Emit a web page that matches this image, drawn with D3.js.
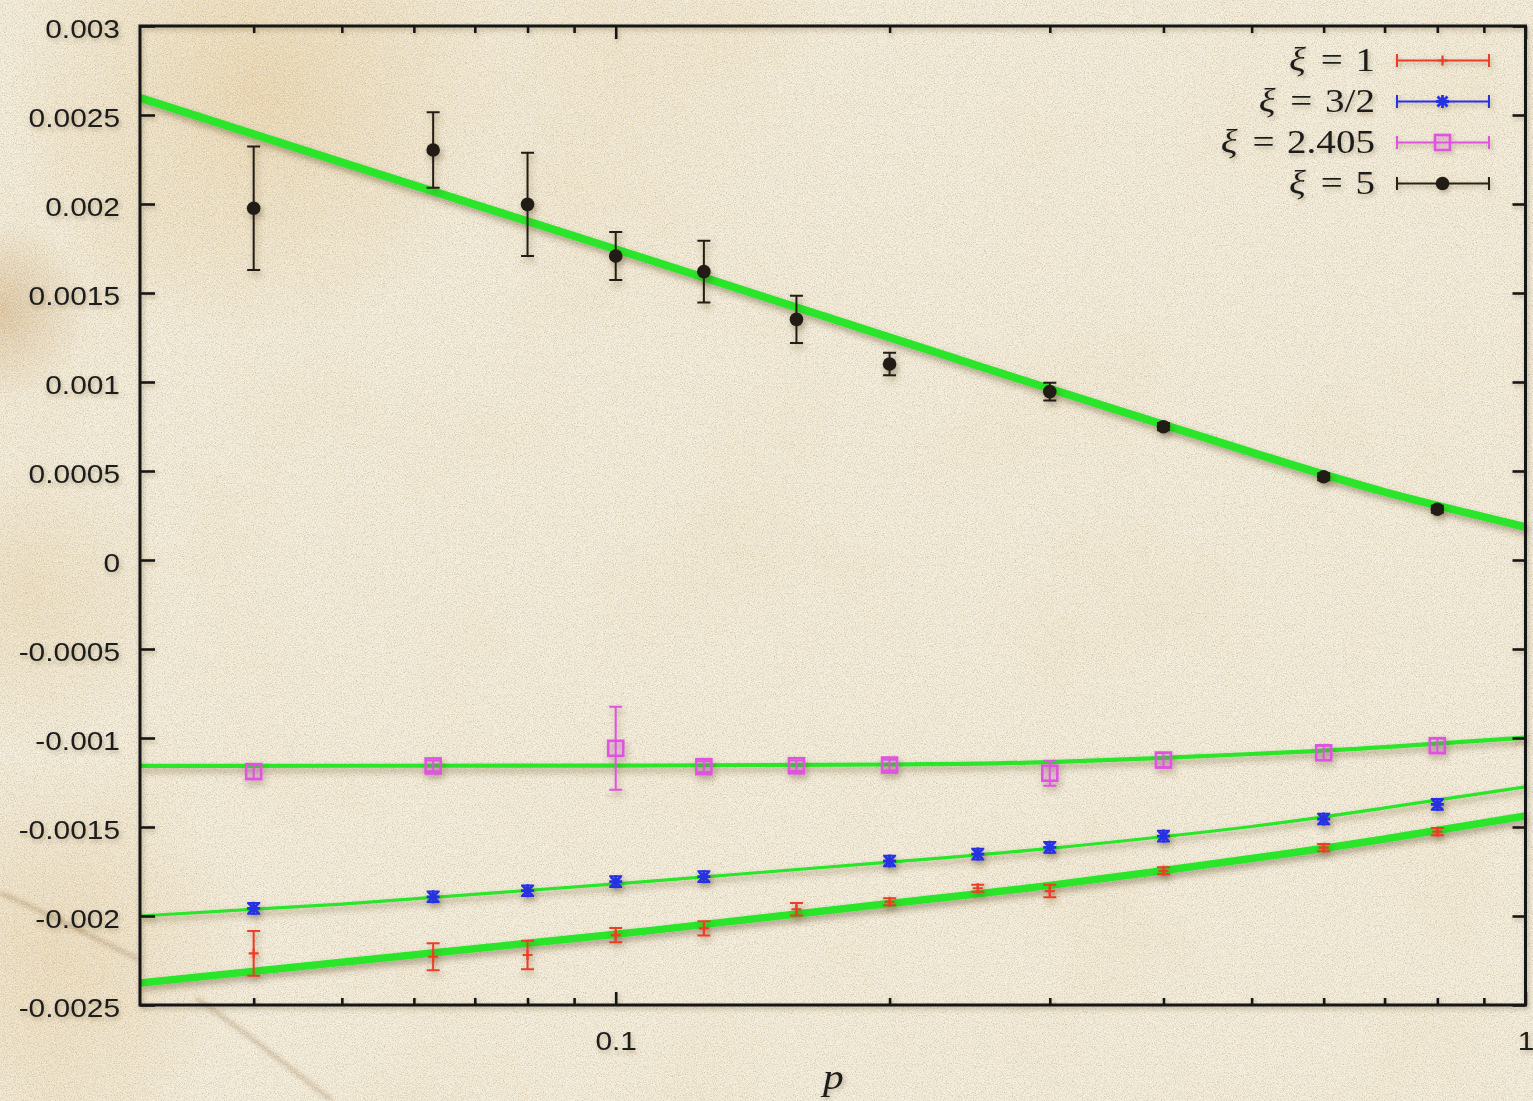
<!DOCTYPE html>
<html>
<head>
<meta charset="utf-8">
<script src="https://cdn.jsdelivr.net/npm/d3@7"></script>
<style>
  html, body { margin: 0; padding: 0; background: #f2ebd8; overflow: hidden; }
  svg { display: block; }
</style>
</head>
<body>
<svg id="chart" width="1533" height="1101"></svg>
<script>
// ---- data -------------------------------------------------------------
// xi = 1
const xi1P   = [0.04, 0.063, 0.08, 0.1, 0.125, 0.158, 0.2, 0.25, 0.3, 0.4, 0.6, 0.8];
const xi1Val = [-0.002210, -0.002229, -0.002219, -0.002107, -0.002069, -0.001962, -0.001920, -0.001844, -0.001860, -0.001746, -0.001616, -0.001526];
const xi1Err = [0.000126, 0.000076, 0.000080, 0.000040, 0.000040, 0.000035, 0.000020, 0.000020, 0.000035, 0.000020, 0.000020, 0.000020];

// xi = 3/2
const xi32P   = [0.04, 0.063, 0.08, 0.1, 0.125, 0.2, 0.25, 0.3, 0.4, 0.6, 0.8];
const xi32Val = [-0.001957, -0.001892, -0.001858, -0.001807, -0.001779, -0.001691, -0.001652, -0.001614, -0.001551, -0.001455, -0.001373];
const xi32Err = [0.000030, 0.000030, 0.000030, 0.000030, 0.000030, 0.000030, 0.000030, 0.000030, 0.000030, 0.000030, 0.000030];

// xi = 2.405
const xi2405P   = [0.04, 0.063, 0.1, 0.125, 0.158, 0.2, 0.3, 0.4, 0.6, 0.8];
const xi2405Val = [-0.001189, -0.001157, -0.001058, -0.001161, -0.001156, -0.001152, -0.001198, -0.001124, -0.001083, -0.001043];
const xi2405Err = [0.000040, 0.000030, 0.000233, 0.000030, 0.000030, 0.000030, 0.000070, 0.000040, 0.000040, 0.000040];

// xi = 5
const xi5P   = [0.04, 0.063, 0.08, 0.1, 0.125, 0.158, 0.2, 0.3, 0.4, 0.6, 0.8];
const xi5Val = [0.001976, 0.002303, 0.001998, 0.001708, 0.001620, 0.001352, 0.001101, 0.000946, 0.000749, 0.000468, 0.000285];
const xi5Err = [0.000347, 0.000212, 0.000290, 0.000135, 0.000174, 0.000133, 0.000063, 0.000050, 0.000020, 0.000020, 0.000020];

// fitted curves, sampled along p
const fitP    = [0.03, 0.05, 0.1, 0.2, 0.3, 0.5, 0.7, 1.0];
const fit1    = [-0.002376, -0.002260, -0.002103, -0.001930, -0.001828, -0.001677, -0.001567, -0.001438];
const fit32   = [-0.002000, -0.001933, -0.001820, -0.001697, -0.001620, -0.001497, -0.001393, -0.001275];
const fit2405 = [-0.001157, -0.001156, -0.001155, -0.001149, -0.001135, -0.001090, -0.001051, -0.000998];
const fit5    = [0.002596, 0.002234, 0.001746, 0.001251, 0.000962, 0.000605, 0.000382, 0.000185];

// axes
const yTicks      = [-0.0025, -0.002, -0.0015, -0.001, -0.0005, 0, 0.0005, 0.001, 0.0015, 0.002, 0.0025, 0.003];
const yTickLabels = ["-0.0025", "-0.002", "-0.0015", "-0.001", "-0.0005", "0", "0.0005", "0.001", "0.0015", "0.002", "0.0025", "0.003"];
const xTicks      = [0.1, 1];
const xTickLabels = ["0.1", "1"];
const xMinorTicks = [0.04, 0.05, 0.06, 0.07, 0.08, 0.09, 0.2, 0.3, 0.4, 0.5, 0.6, 0.7, 0.8, 0.9];
const legendLabels = ["1", "3/2", "2.405", "5"];

// ---- layout ------------------------------------------------------------
const W = 1533, H = 1101;
const L = 140, R = 1525.5, T = 26, B = 1005;
const SX = 1.15; // horizontal stretch of lettering

const svg = d3.select("#chart");
const x = d3.scaleLog().domain([0.03, 1]).range([L, R]);
const y = d3.scaleLinear().domain([-0.0025, 0.003]).range([B, T]);

const defs = svg.append("defs");

// paper texture: dark flecks, light flecks and broad mottling
const grain = defs.append("filter").attr("id", "grain")
  .attr("x", 0).attr("y", 0).attr("width", "100%").attr("height", "100%");
grain.append("feTurbulence").attr("type", "fractalNoise").attr("baseFrequency", 0.9)
  .attr("numOctaves", 3).attr("seed", 7).attr("result", "n");
grain.append("feColorMatrix").attr("in", "n").attr("type", "matrix")
  .attr("values", "0 0 0 0 0.45  0 0 0 0 0.36  0 0 0 0 0.22  2.2 0 0 0 -0.95");

const grainLight = defs.append("filter").attr("id", "grainLight")
  .attr("x", 0).attr("y", 0).attr("width", "100%").attr("height", "100%");
grainLight.append("feTurbulence").attr("type", "fractalNoise").attr("baseFrequency", 0.75)
  .attr("numOctaves", 2).attr("seed", 19).attr("result", "n");
grainLight.append("feColorMatrix").attr("in", "n").attr("type", "matrix")
  .attr("values", "0 0 0 0 1  0 0 0 0 0.99  0 0 0 0 0.95  0 2.2 0 0 -0.95");

const mottle = defs.append("filter").attr("id", "mottle")
  .attr("x", 0).attr("y", 0).attr("width", "100%").attr("height", "100%");
mottle.append("feTurbulence").attr("type", "fractalNoise").attr("baseFrequency", 0.006)
  .attr("numOctaves", 3).attr("seed", 3).attr("result", "n");
mottle.append("feColorMatrix").attr("in", "n").attr("type", "matrix")
  .attr("values", "0 0 0 0 0.82  0 0 0 0 0.66  0 0 0 0 0.40  1.6 0 0 0 -0.80");

const blur = defs.append("filter").attr("id", "blur").attr("x", "-20%").attr("y", "-20%")
  .attr("width", "140%").attr("height", "140%");
blur.append("feGaussianBlur").attr("stdDeviation", 2.2);

const stain = [
  { id: "s1", cx: 260, cy: 90,  r: 250, c: "rgb(226,196,140)", o: 0.55 },
  { id: "s2", cx: 0,   cy: 310, r: 90,  c: "rgb(196,152,92)",  o: 0.50 },
  { id: "s3", cx: 30,  cy: 600, r: 150, c: "rgb(222,190,132)", o: 0.30 },
  { id: "s4", cx: 50,  cy: 950, r: 200, c: "rgb(222,186,128)", o: 0.35 },
  { id: "s5", cx: 620, cy: 50,  r: 220, c: "rgb(232,210,165)", o: 0.25 }
];
stain.forEach(s => {
  const g = defs.append("radialGradient").attr("id", s.id);
  g.append("stop").attr("offset", "0%").attr("stop-color", s.c).attr("stop-opacity", s.o);
  g.append("stop").attr("offset", "100%").attr("stop-color", s.c).attr("stop-opacity", 0);
});

// drop shadows
function shadow(id, dx, dy, sd, op) {
  const f = defs.append("filter").attr("id", id).attr("x", "-10%").attr("y", "-10%")
    .attr("width", "120%").attr("height", "125%");
  f.append("feDropShadow").attr("dx", dx).attr("dy", dy).attr("stdDeviation", sd)
    .attr("flood-color", "#4a3418").attr("flood-opacity", op);
}
shadow("shadow", 2, 4, 3, 0.40);
shadow("shadowText", 1.5, 2.5, 2, 0.30);

defs.append("clipPath").attr("id", "plotClip")
  .append("rect").attr("x", L).attr("y", T).attr("width", R - L).attr("height", B - T);

// background
svg.append("rect").attr("width", W).attr("height", H).attr("fill", "#f3ecd9");
svg.append("rect").attr("width", W).attr("height", H).attr("filter", "url(#mottle)").attr("opacity", 0.3);
stain.forEach(s => {
  svg.append("circle").attr("cx", s.cx).attr("cy", s.cy).attr("r", s.r).attr("fill", `url(#${s.id})`);
});
const creases = svg.append("g").attr("filter", "url(#blur)").attr("fill", "none")
  .attr("stroke", "rgb(125,85,42)").attr("stroke-opacity", 0.45).attr("stroke-width", 3);
creases.append("path").attr("d", "M0,893 C45,912 95,938 140,960");
creases.append("path").attr("d", "M196,998 C240,1028 288,1066 332,1101");
svg.append("rect").attr("width", W).attr("height", H).attr("filter", "url(#grain)").attr("opacity", 0.6);
svg.append("rect").attr("width", W).attr("height", H).attr("filter", "url(#grainLight)").attr("opacity", 0.6);

// ---- series ------------------------------------------------------------
const series = [
  { label: legendLabels[0], p: xi1P,    v: xi1Val,    e: xi1Err,    fit: fit1,    fitW: 7.5, color: "#ec3d26", marker: "plus" },
  { label: legendLabels[1], p: xi32P,   v: xi32Val,   e: xi32Err,   fit: fit32,   fitW: 3.2, color: "#2730e0", marker: "star" },
  { label: legendLabels[2], p: xi2405P, v: xi2405Val, e: xi2405Err, fit: fit2405, fitW: 4.2, color: "#e052e0", marker: "square" },
  { label: legendLabels[3], p: xi5P,    v: xi5Val,    e: xi5Err,    fit: fit5,    fitW: 8,   color: "#231d14", marker: "circle" }
];

const fitColor = "#2be52b";
const line = d3.line().x(d => x(d[0])).y(d => y(d[1])).curve(d3.curveNatural);

// fit curves
const fitLayer = svg.append("g").attr("filter", "url(#shadow)")
  .append("g").attr("clip-path", "url(#plotClip)");
series.forEach(s => {
  fitLayer.append("path")
    .datum(fitP.map((p, i) => [p, s.fit[i]]))
    .attr("d", line)
    .attr("fill", "none")
    .attr("stroke", fitColor)
    .attr("stroke-width", s.fitW)
    .attr("stroke-linecap", "butt");
});

function drawMarker(g, type, cx, cy, color) {
  if (type === "plus") {
    g.append("path").attr("d", `M${cx - 5},${cy}H${cx + 5}M${cx},${cy - 5}V${cy + 5}`)
      .attr("stroke", color).attr("stroke-width", 2.2).attr("fill", "none");
  } else if (type === "star") {
    g.append("path")
      .attr("d", `M${cx - 6.5},${cy}H${cx + 6.5}M${cx},${cy - 6.5}V${cy + 6.5}` +
                 `M${cx - 5},${cy - 5}L${cx + 5},${cy + 5}M${cx - 5},${cy + 5}L${cx + 5},${cy - 5}`)
      .attr("stroke", color).attr("stroke-width", 2.8).attr("fill", "none");
  } else if (type === "square") {
    g.append("rect").attr("x", cx - 7.5).attr("y", cy - 7.5).attr("width", 15).attr("height", 15)
      .attr("fill", color).attr("fill-opacity", 0.12)
      .attr("stroke", color).attr("stroke-width", 2.6);
  } else {
    g.append("circle").attr("cx", cx).attr("cy", cy).attr("r", 6.8).attr("fill", color);
  }
}

function errorBar(g, cx, yTop, yBot, color, cap, w) {
  g.append("path")
    .attr("d", `M${cx},${yTop}V${yBot}M${cx - cap},${yTop}H${cx + cap}M${cx - cap},${yBot}H${cx + cap}`)
    .attr("stroke", color).attr("stroke-width", w).attr("fill", "none");
}

// points with error bars
const pointLayer = svg.append("g").attr("filter", "url(#shadow)");
series.forEach(s => {
  const g = pointLayer.append("g");
  s.p.forEach((p, i) => {
    const cx = x(p), cy = y(s.v[i]);
    errorBar(g, cx, y(s.v[i] + s.e[i]), y(s.v[i] - s.e[i]), s.color, 6.5, 2);
    drawMarker(g, s.marker, cx, cy, s.color);
  });
});

// ---- axes and frame ----------------------------------------------------
const axisLayer = svg.append("g").attr("filter", "url(#shadowText)");

function styleAxis(g) {
  g.select(".domain").remove();
  g.selectAll(".tick line").attr("stroke", "#151515").attr("stroke-width", 2.6);
  g.selectAll(".tick text")
    .attr("fill", "#1b1b1b")
    .attr("font-family", "'Liberation Sans', Arial, Helvetica, sans-serif")
    .attr("font-size", 26);
}

const gLeft = axisLayer.append("g").attr("transform", `translate(${L},0)`)
  .call(d3.axisLeft(y).tickValues(yTicks).tickSizeInner(-15).tickSizeOuter(0).tickPadding(20)
    .tickFormat((d, i) => yTickLabels[i]));
styleAxis(gLeft);
gLeft.selectAll(".tick text").each(function () {
  const t = d3.select(this);
  const tx = +t.attr("x");
  t.attr("x", 0).attr("dy", "0.45em").attr("transform", `translate(${tx},0) scale(${SX},1)`);
});

const gRight = axisLayer.append("g").attr("transform", `translate(${R},0)`)
  .call(d3.axisRight(y).tickValues(yTicks).tickSizeInner(-13).tickSizeOuter(0).tickFormat(""));
styleAxis(gRight);

const gBottom = axisLayer.append("g").attr("transform", `translate(0,${B})`)
  .call(d3.axisBottom(x).tickValues(xTicks).tickSizeInner(-13).tickSizeOuter(0).tickPadding(27)
    .tickFormat((d, i) => xTickLabels[i]));
styleAxis(gBottom);
gBottom.selectAll(".tick text").attr("transform", `scale(${SX},1)`);

const gBottomMinor = axisLayer.append("g").attr("transform", `translate(0,${B})`)
  .call(d3.axisBottom(x).tickValues(xMinorTicks).tickSizeInner(-7).tickSizeOuter(0).tickFormat(""));
styleAxis(gBottomMinor);

const gTop = axisLayer.append("g").attr("transform", `translate(0,${T})`)
  .call(d3.axisTop(x).tickValues(xTicks).tickSizeInner(-13).tickSizeOuter(0).tickFormat(""));
styleAxis(gTop);
const gTopMinor = axisLayer.append("g").attr("transform", `translate(0,${T})`)
  .call(d3.axisTop(x).tickValues(xMinorTicks).tickSizeInner(-7).tickSizeOuter(0).tickFormat(""));
styleAxis(gTopMinor);

axisLayer.append("rect").attr("x", L).attr("y", T).attr("width", R - L).attr("height", B - T)
  .attr("fill", "none").attr("stroke", "#141414").attr("stroke-width", 3);

// x-axis title
axisLayer.append("g").attr("transform", `translate(${(L + R) / 2 + 0.5},1089) scale(${SX},1)`)
  .append("text")
  .attr("text-anchor", "middle")
  .attr("font-family", "'Liberation Serif', 'Times New Roman', serif")
  .attr("font-style", "italic")
  .attr("font-size", 36)
  .attr("fill", "#1b1b1b")
  .text("p");

// ---- legend ------------------------------------------------------------
const legend = svg.append("g").attr("filter", "url(#shadowText)");
const legTextRight = 1375, legX0 = 1397, legX1 = 1489;
series.forEach((s, i) => {
  const rowY = 60.5 + i * 41;
  const t = legend.append("g")
    .attr("transform", `translate(${legTextRight},${rowY + 10}) scale(${SX},1)`)
    .append("text")
    .attr("text-anchor", "end")
    .attr("font-family", "'Liberation Serif', 'Times New Roman', serif")
    .attr("font-size", 34)
    .attr("fill", "#1b1b1b");
  t.append("tspan").attr("font-style", "italic").text("ξ");
  t.append("tspan").attr("dx", 13).text("=");
  t.append("tspan").attr("dx", 11).text(s.label);

  const g = legend.append("g");
  const lc = s.marker === "circle" ? "#2b2418" : s.color;
  g.append("path")
    .attr("d", `M${legX0},${rowY}H${legX1}M${legX0},${rowY - 6.5}V${rowY + 6.5}M${legX1},${rowY - 6.5}V${rowY + 6.5}`)
    .attr("stroke", lc).attr("stroke-width", 2).attr("fill", "none");
  drawMarker(g, s.marker, (legX0 + legX1) / 2 - 0.5, rowY, s.color);
});
</script>
</body>
</html>
